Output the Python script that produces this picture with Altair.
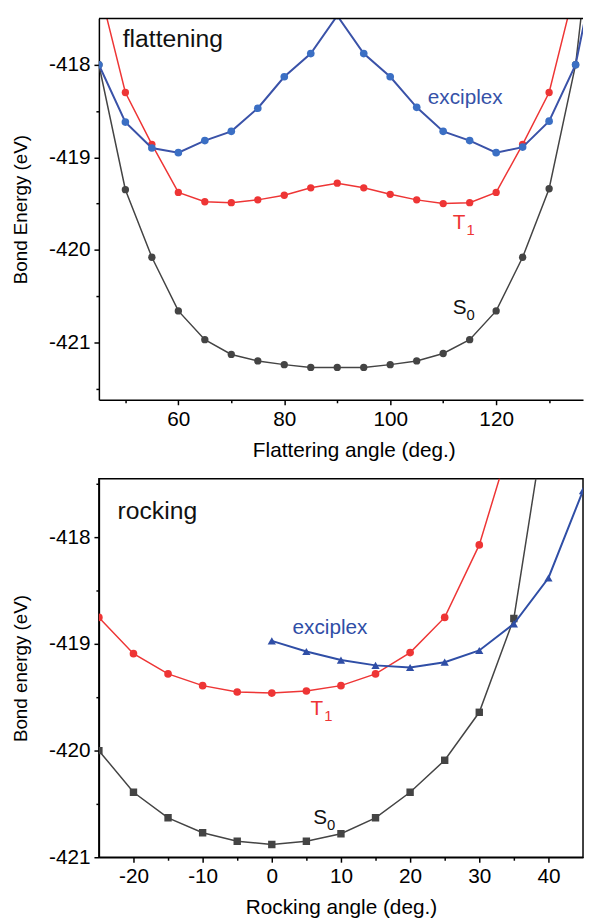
import altair as alt
import pandas as pd

# ---------------- data: flattening panel ----------------
flat_angle = [45, 50, 55, 60, 65, 70, 75, 80, 85, 90, 95, 100, 105, 110, 115, 120, 125, 130, 135, 140]
flat_S0 = [-418.00, -419.35, -420.08, -420.66, -420.97, -421.13, -421.20, -421.24, -421.27, -421.27,
           -421.27, -421.24, -421.20, -421.12, -420.97, -420.66, -420.08, -419.34, -418.00, -415.50]
flat_T1 = [-417.15, -418.30, -418.86, -419.38, -419.48, -419.49, -419.46, -419.41, -419.33, -419.28,
           -419.33, -419.40, -419.46, -419.50, -419.49, -419.38, -418.86, -418.30, -417.15, -415.80]
flat_EX = [-418.00, -418.62, -418.90, -418.95, -418.82, -418.72, -418.47, -418.13, -417.88, -417.47,
           -417.88, -418.13, -418.46, -418.72, -418.82, -418.95, -418.89, -418.61, -418.00, -416.60]

# ---------------- data: rocking panel ----------------
rock_angle_S0 = [-25, -20, -15, -10, -5, 0, 5, 10, 15, 20, 25, 30, 35, 40]
rock_S0 = [-420.00, -420.39, -420.63, -420.77, -420.85, -420.88, -420.85, -420.78, -420.63, -420.39,
           -420.09, -419.64, -418.76, -416.70]
rock_angle_T1 = [-25, -20, -15, -10, -5, 0, 5, 10, 15, 20, 25, 30, 35]
rock_T1 = [-418.75, -419.09, -419.28, -419.39, -419.45, -419.46, -419.44, -419.39, -419.28, -419.08,
           -418.75, -418.07, -417.00]
rock_angle_EX = [0, 5, 10, 15, 20, 25, 30, 35, 40, 45]
rock_EX = [-418.97, -419.07, -419.15, -419.20, -419.22, -419.17, -419.06, -418.81, -418.38, -417.56]

# ---------------- axis ticks ----------------
flat_xticks = [50, 60, 70, 80, 90, 100, 110, 120, 130]
flat_yticks = [-421.5, -421, -420.5, -420, -419.5, -419, -418.5, -418]
rock_xticks = [-20, -15, -10, -5, 0, 5, 10, 15, 20, 25, 30, 35, 40]
rock_yticks = [-421, -420.5, -420, -419.5, -419, -418.5, -418, -417.5]

# ---------------- annotations (data coordinates) ----------------
flat_notes = pd.DataFrame({
    "x": [49.5, 107.1, 111.8, 111.8],
    "y": [-417.81, -418.42, -419.78, -420.69],
    "text": ["flattening", "exciplex", "T", "S"],
    "sub": ["", "", "1", "0"],
    "color": ["#111111", "#3552a8", "#ee3535", "#111111"],
    "size": [25, 21, 21, 21],
})
rock_notes = pd.DataFrame({
    "x": [-22.3, 3.0, 5.6, 6.0],
    "y": [-417.83, -418.91, -419.67, -420.69],
    "text": ["rocking", "exciplex", "T", "S"],
    "sub": ["", "", "1", "0"],
    "color": ["#111111", "#2f4ea6", "#ee3535", "#111111"],
    "size": [25, 21, 21, 21],
})

RED = "#ee3535"
GRAY = "#444444"
W, H1, H2 = 490, 386, 383
FONT = "Liberation Sans"


def axis(values, major_test, title, title_pad, title_size, **extra):
    return alt.Axis(
        values=values,
        labelExpr=f"({major_test}) ? ('' + datum.value) : ''",
        tickSize={"condition": {"test": major_test, "value": 5}, "value": 3},
        title=title,
        titlePadding=title_pad,
        titleFontSize=title_size,
        labelPadding=4,
        **extra,
    )


def series_layers(df, xdom, ydom, xaxis, yaxis, specs):
    layers = []
    for name, lcolor, pcolor, shape, size, lw in specs:
        d = df[df.series == name]
        base = alt.Chart(d).encode(
            x=alt.X("x:Q", scale=alt.Scale(domain=xdom, nice=False, zero=False), axis=xaxis),
            y=alt.Y("y:Q", scale=alt.Scale(domain=ydom, nice=False, zero=False), axis=yaxis),
        )
        layers.append(base.mark_line(color=lcolor, strokeWidth=lw, clip=True))
        layers.append(base.mark_point(filled=True, shape=shape, size=size, color=pcolor,
                                      opacity=1, clip=True))
    return layers


def notes_layers(notes):
    main = alt.Chart(notes).mark_text(align="left", baseline="alphabetic").encode(
        x="x:Q", y="y:Q", text="text:N",
        color=alt.Color("color:N", scale=None),
        size=alt.Size("size:Q", scale=None),
    )
    sub = alt.Chart(notes).mark_text(align="left", baseline="alphabetic", dx=14, dy=6,
                                     fontSize=15).encode(
        x="x:Q", y="y:Q", text="sub:N",
        color=alt.Color("color:N", scale=None),
    )
    return [main, sub]


flat_df = pd.concat([
    pd.DataFrame({"x": flat_angle, "y": flat_S0, "series": "S0"}),
    pd.DataFrame({"x": flat_angle, "y": flat_T1, "series": "T1"}),
    pd.DataFrame({"x": flat_angle, "y": flat_EX, "series": "EX"}),
])
rock_df = pd.concat([
    pd.DataFrame({"x": rock_angle_S0, "y": rock_S0, "series": "S0"}),
    pd.DataFrame({"x": rock_angle_T1, "y": rock_T1, "series": "T1"}),
    pd.DataFrame({"x": rock_angle_EX, "y": rock_EX, "series": "EX"}),
])

flat_xaxis = axis(flat_xticks, "datum.value % 20 === 0", "Flattering angle (deg.)", 10, 21, titleX=258)
flat_yaxis = axis(flat_yticks, "datum.value % 1 === 0", "Bond Energy (eV)", 18, 19)
rock_xaxis = axis(rock_xticks, "datum.value % 10 === 0", "Rocking angle (deg.)", 10, 21)
rock_yaxis = axis(rock_yticks, "datum.value % 1 === 0", "Bond energy (eV)", 18, 19)

top_rule = alt.Chart(pd.DataFrame({"k": [0]})).mark_rule(color="black", strokeWidth=1.5).encode(
    x=alt.value(0), x2=alt.value(W), y=alt.value(0)
)

flat = alt.layer(
    *series_layers(flat_df, [45, 136.4], [-421.62, -417.5], flat_xaxis, flat_yaxis, [
        ("S0", GRAY, GRAY, "circle", 55, 1.5),
        ("T1", RED, RED, "circle", 55, 1.5),
        ("EX", "#3a52a8", "#3b6fc4", "circle", 60, 2),
    ]),
    *notes_layers(flat_notes),
    top_rule,
).properties(width=W, height=H1, view=alt.ViewBackground(strokeOpacity=0))

rock = alt.layer(
    *series_layers(rock_df, [-25, 45], [-421, -417.45], rock_xaxis, rock_yaxis, [
        ("S0", GRAY, GRAY, "square", 56, 1.5),
        ("T1", RED, RED, "circle", 60, 1.5),
        ("EX", "#2f4ea6", "#2f4ea6", "triangle-up", 70, 2),
    ]),
    *notes_layers(rock_notes),
).properties(width=W, height=H2)

chart = alt.vconcat(flat, rock, spacing=18).properties(
    padding={"left": 3, "top": 4, "right": 0, "bottom": 0}
).configure(font=FONT).configure_view(
    stroke="black", strokeWidth=1.5
).configure_axis(
    grid=False, domainColor="black", domainWidth=1.5, tickColor="black", tickWidth=1.5,
    labelFont=FONT, labelFontSize=21, labelColor="black",
    titleFont=FONT, titleFontWeight="normal", titleColor="black",
)

chart.save("out.html", embed_options={"renderer": "svg", "actions": False})
